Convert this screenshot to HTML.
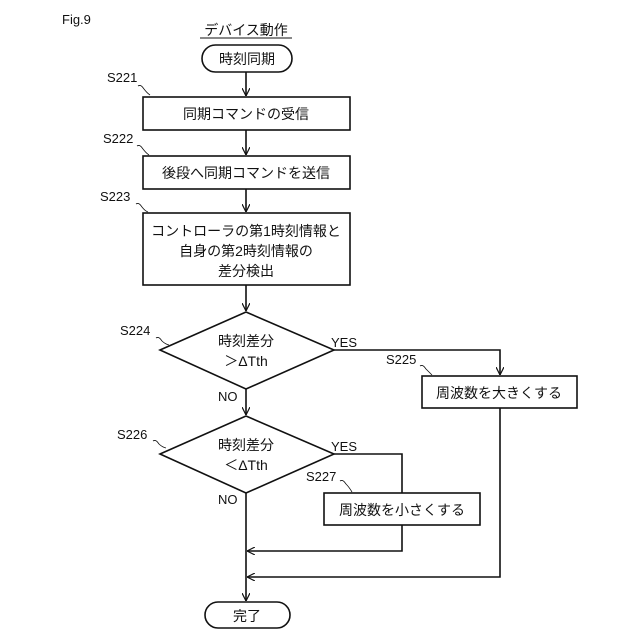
<!DOCTYPE html>
<html><head><meta charset="utf-8"><style>
html,body{margin:0;padding:0;background:#fff;}
svg{display:block;}
text{font-family:"Liberation Sans","Noto Sans CJK JP",sans-serif;fill:#111;}
</style></head><body>
<svg width="640" height="640" viewBox="0 0 640 640" xmlns="http://www.w3.org/2000/svg">
<defs>
<marker id="a" viewBox="0 0 10 10" refX="10" refY="5" markerWidth="8" markerHeight="8" orient="auto" markerUnits="userSpaceOnUse">
<path d="M0,0 L10,5 L0,10" fill="none" stroke="#111" stroke-width="1.5"/>
</marker>
</defs>
<g stroke="#111" stroke-width="1.6" fill="none">
<rect x="202" y="45" width="90" height="27" rx="13.5"/>
<rect x="143" y="97" width="207" height="33"/>
<rect x="143" y="156" width="207" height="33"/>
<rect x="143" y="213" width="207" height="72"/>
<polygon points="160,350 246,312 334,350 246,389"/>
<polygon points="160,454 246,416 334,454 246,493"/>
<rect x="422" y="376" width="155" height="32"/>
<rect x="324" y="493" width="156" height="32"/>
<rect x="205" y="602" width="85" height="26" rx="13"/>
<line x1="246" y1="72" x2="246" y2="96" marker-end="url(#a)"/>
<line x1="246" y1="130" x2="246" y2="155" marker-end="url(#a)"/>
<line x1="246" y1="189" x2="246" y2="212" marker-end="url(#a)"/>
<line x1="246" y1="285" x2="246" y2="311" marker-end="url(#a)"/>
<line x1="246" y1="389" x2="246" y2="415" marker-end="url(#a)"/>
<line x1="246" y1="493" x2="246" y2="601" marker-end="url(#a)"/>
<polyline points="334,350 500,350 500,375" marker-end="url(#a)"/>
<polyline points="334,454 402,454 402,493"/>
<polyline points="402,525 402,551 247,551" marker-end="url(#a)"/>
<polyline points="500,408 500,577 247,577" marker-end="url(#a)"/>
<line x1="200" y1="38" x2="292" y2="38" stroke-width="1"/>
<g stroke-width="0.8">
<path d="M138,86 q3,-2 6,3 q3,4 6,6"/>
<path d="M137,146 q3,-2 6,3 q3,4 6,6"/>
<path d="M136,204 q3,-2 6,3 q3,4 6,5"/>
<path d="M156,338 q3,-2 6,3 q3,3 7,4"/>
<path d="M153,441 q3,-2 6,3 q3,3 7,4"/>
<path d="M420,366 q3,-2 6,3 q3,3 6,6"/>
<path d="M340,481 q3,-2 6,3 q3,3 6,8"/>
</g>
</g>
<g font-size="14">
<text x="62" y="24" font-size="13">Fig.9</text>
<text x="246" y="35" text-anchor="middle">デバイス動作</text>
<text x="247" y="64" text-anchor="middle">時刻同期</text>
<text x="246" y="119" text-anchor="middle">同期コマンドの受信</text>
<text x="246" y="178" text-anchor="middle">後段へ同期コマンドを送信</text>
<text x="246" y="236" text-anchor="middle">コントローラの第1時刻情報と</text>
<text x="246" y="256" text-anchor="middle">自身の第2時刻情報の</text>
<text x="246" y="276" text-anchor="middle">差分検出</text>
<text x="246" y="346" text-anchor="middle">時刻差分</text>
<text x="246" y="366" text-anchor="middle">＞ΔTth</text>
<text x="246" y="450" text-anchor="middle">時刻差分</text>
<text x="246" y="470" text-anchor="middle">＜ΔTth</text>
<text x="499" y="398" text-anchor="middle">周波数を大きくする</text>
<text x="402" y="515" text-anchor="middle">周波数を小さくする</text>
<text x="247" y="621" text-anchor="middle">完了</text>
</g>
<g font-size="13">
<text x="107" y="82">S221</text>
<text x="103" y="143">S222</text>
<text x="100" y="201">S223</text>
<text x="120" y="335">S224</text>
<text x="117" y="439">S226</text>
<text x="386" y="364">S225</text>
<text x="306" y="481">S227</text>
<text x="331" y="347">YES</text>
<text x="331" y="451">YES</text>
<text x="218" y="401">NO</text>
<text x="218" y="504">NO</text>
</g>
</svg>
</body></html>
